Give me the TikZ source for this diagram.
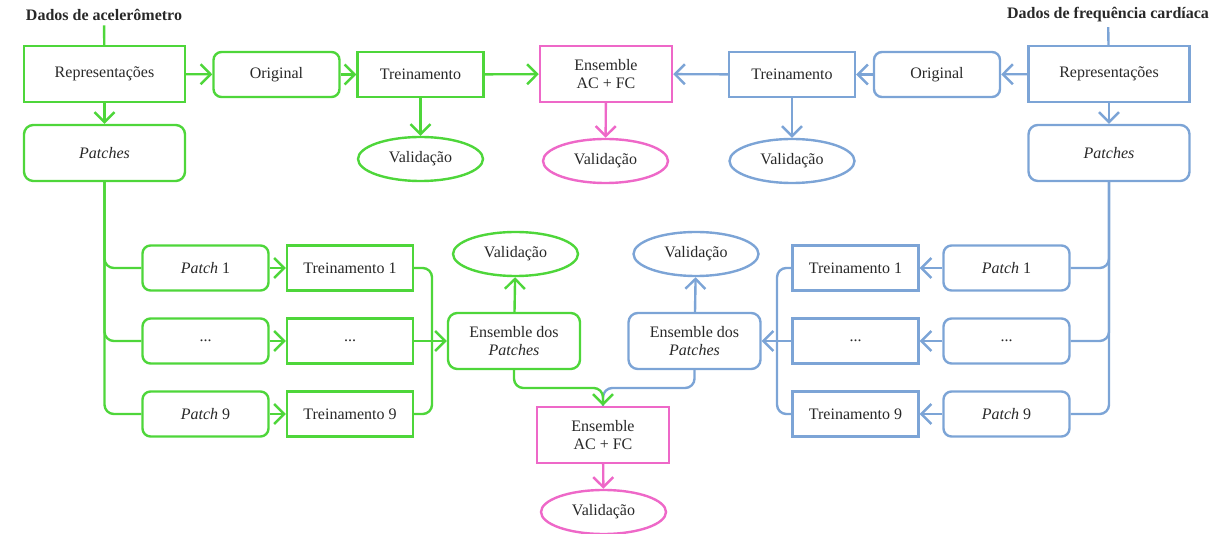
\documentclass[tikz,border=0pt]{standalone}
\usepackage{fontspec}
\setmainfont{Liberation Serif}
\usepackage{tikz}
\usetikzlibrary{arrows.meta, calc, shapes.geometric}
\definecolor{accgreen}{RGB}{78,214,58}
\definecolor{hrblue}{RGB}{124,164,214}
\definecolor{enspink}{RGB}{238,104,200}
\definecolor{txtgray}{RGB}{40,40,40}

\tikzset{
  box/.style={draw, line width=1.8pt, minimum width=94.5pt, minimum height=33.75pt, align=center, inner sep=2pt, text=txtgray},
  rbox/.style={box, rounded corners=6pt},
  bigbox/.style={box, minimum width=120.75pt, minimum height=42pt},
  bigrbox/.style={bigbox, rounded corners=7pt},
  ensbox/.style={box, minimum width=99pt, minimum height=42pt},
  oval/.style={draw, ellipse, line width=1.8pt, minimum width=93.75pt, minimum height=33pt, inner sep=1pt, text=txtgray},
  titletext/.style={font=\fontsize{12pt}{14pt}\selectfont\rmfamily\bfseries, text=txtgray},
  gl/.style={draw=accgreen, line width=1.8pt},
  bl/.style={draw=hrblue, line width=1.8pt},
  pl/.style={draw=enspink, line width=1.8pt}
}

\begin{document}
\begin{tikzpicture}[x=0.75pt, y=-0.75pt, >={Straight Barb[length=7.5pt,width=15pt]}, font=\fontsize{12pt}{14pt}\selectfont\rmfamily]
  \useasboundingbox (0,0) rectangle (1225,534);

  % acelerometro (verde)
  \node[titletext] (tA) at (104,15) {Dados de acelerômetro};
  \node[bigbox, draw=accgreen] (repA) at (104.5,74) {Representações};
  \node[rbox, draw=accgreen] (origA) at (276.5,74.5) {Original};
  \node[box, draw=accgreen] (trA) at (420.5,74.5) {Treinamento};
  \node[oval, draw=accgreen] (valA) at (420.5,159) {Validação};
  \node[bigrbox, draw=accgreen] (patA) at (104.5,153) {\textit{Patches}};

  \node[rbox, draw=accgreen] (p1A) at (205.5,268) {\textit{Patch} 1};
  \node[box, draw=accgreen] (t1A) at (350,268) {Treinamento 1};
  \node[rbox, draw=accgreen] (pmA) at (205.5,341) {...};
  \node[box, draw=accgreen] (tmA) at (350,341) {...};
  \node[rbox, draw=accgreen] (p9A) at (205.5,414) {\textit{Patch} 9};
  \node[box, draw=accgreen] (t9A) at (350,414) {Treinamento 9};
  \node[ensbox, rounded corners=7pt, draw=accgreen] (ensA) at (514,341) {Ensemble dos\\\textit{Patches}};
  \node[oval, draw=accgreen] (valA2) at (515.5,254) {Validação};

  % frequencia cardiaca (azul)
  \node[titletext] (tF) at (1108,15) {Dados de frequência cardíaca};
  \node[bigbox, draw=hrblue] (repF) at (1109,74) {Representações};
  \node[rbox, draw=hrblue] (origF) at (937,74.5) {Original};
  \node[box, draw=hrblue] (trF) at (792,74.5) {Treinamento};
  \node[oval, draw=hrblue] (valF) at (792,161) {Validação};
  \node[bigrbox, draw=hrblue] (patF) at (1109,153) {\textit{Patches}};

  \node[rbox, draw=hrblue] (p1F) at (1006.5,268) {\textit{Patch} 1};
  \node[box, draw=hrblue] (t1F) at (855.5,268) {Treinamento 1};
  \node[rbox, draw=hrblue] (pmF) at (1006.5,341) {...};
  \node[box, draw=hrblue] (tmF) at (855.5,341) {...};
  \node[rbox, draw=hrblue] (p9F) at (1006.5,414) {\textit{Patch} 9};
  \node[box, draw=hrblue] (t9F) at (855.5,414) {Treinamento 9};
  \node[ensbox, rounded corners=7pt, draw=hrblue] (ensF) at (694.5,341) {Ensemble dos\\\textit{Patches}};
  \node[oval, draw=hrblue] (valF2) at (696,254) {Validação};

  % ensembles AC + FC (rosa)
  \node[ensbox, draw=enspink] (ensT) at (606,74) {Ensemble\\AC + FC};
  \node[oval, draw=enspink] (valT) at (605.5,161) {Validação};
  \node[ensbox, draw=enspink] (ensB) at (603,435) {Ensemble\\AC + FC};
  \node[oval, draw=enspink] (valB) at (603.5,512) {Validação};

  \coordinate (jA) at (432,341);
  \coordinate (jF) at (777,341);
  \coordinate (jB) at (603,388);

  % ligacoes verdes
  \draw[gl] (tA) -- (repA);
  \draw[gl, ->] (repA) -- (origA);
  \draw[gl, ->] (origA) -- (trA);
  \draw[gl, ->] (trA) -- (ensT);
  \draw[gl, ->] (trA) -- (valA);
  \draw[gl, ->] (repA) -- (patA);
  \draw[gl, rounded corners=7pt] (patA.south) |- (p1A.west);
  \draw[gl, rounded corners=7pt] (patA.south) |- (pmA.west);
  \draw[gl, rounded corners=7pt] (patA.south) |- (p9A.west);
  \draw[gl, ->] (p1A) -- (t1A);
  \draw[gl, ->] (pmA) -- (tmA);
  \draw[gl, ->] (p9A) -- (t9A);
  \draw[gl, rounded corners=7pt] (t1A.east) -| (jA) |- (t9A.east);
  \draw[gl, ->] (tmA) -- (ensA);
  \draw[gl, ->] (ensA) -- (valA2);

  % ligacoes azuis
  \draw[bl] (tF) -- (repF);
  \draw[bl, ->] (repF) -- (origF);
  \draw[bl, ->] (origF) -- (trF);
  \draw[bl, ->] (trF) -- (ensT);
  \draw[bl, ->] (trF) -- (valF);
  \draw[bl, ->] (repF) -- (patF);
  \draw[bl, rounded corners=7pt] (patF.south) |- (p1F.east);
  \draw[bl, rounded corners=7pt] (patF.south) |- (pmF.east);
  \draw[bl, rounded corners=7pt] (patF.south) |- (p9F.east);
  \draw[bl, ->] (p1F) -- (t1F);
  \draw[bl, ->] (pmF) -- (tmF);
  \draw[bl, ->] (p9F) -- (t9F);
  \draw[bl, rounded corners=7pt] (t1F.west) -| (jF) |- (t9F.west);
  \draw[bl, ->] (tmF) -- (ensF);
  \draw[bl, ->] (ensF) -- (valF2);

  % juncao final
  \draw[bl, rounded corners=7pt] (ensF.south) |- (jB) -- (ensB.north);
  \draw[gl, ->, rounded corners=7pt] (ensA.south) |- (jB) -- (ensB.north);
  \draw[pl, ->] (ensT) -- (valT);
  \draw[pl, ->] (ensB) -- (valB);
\end{tikzpicture}
\end{document}
